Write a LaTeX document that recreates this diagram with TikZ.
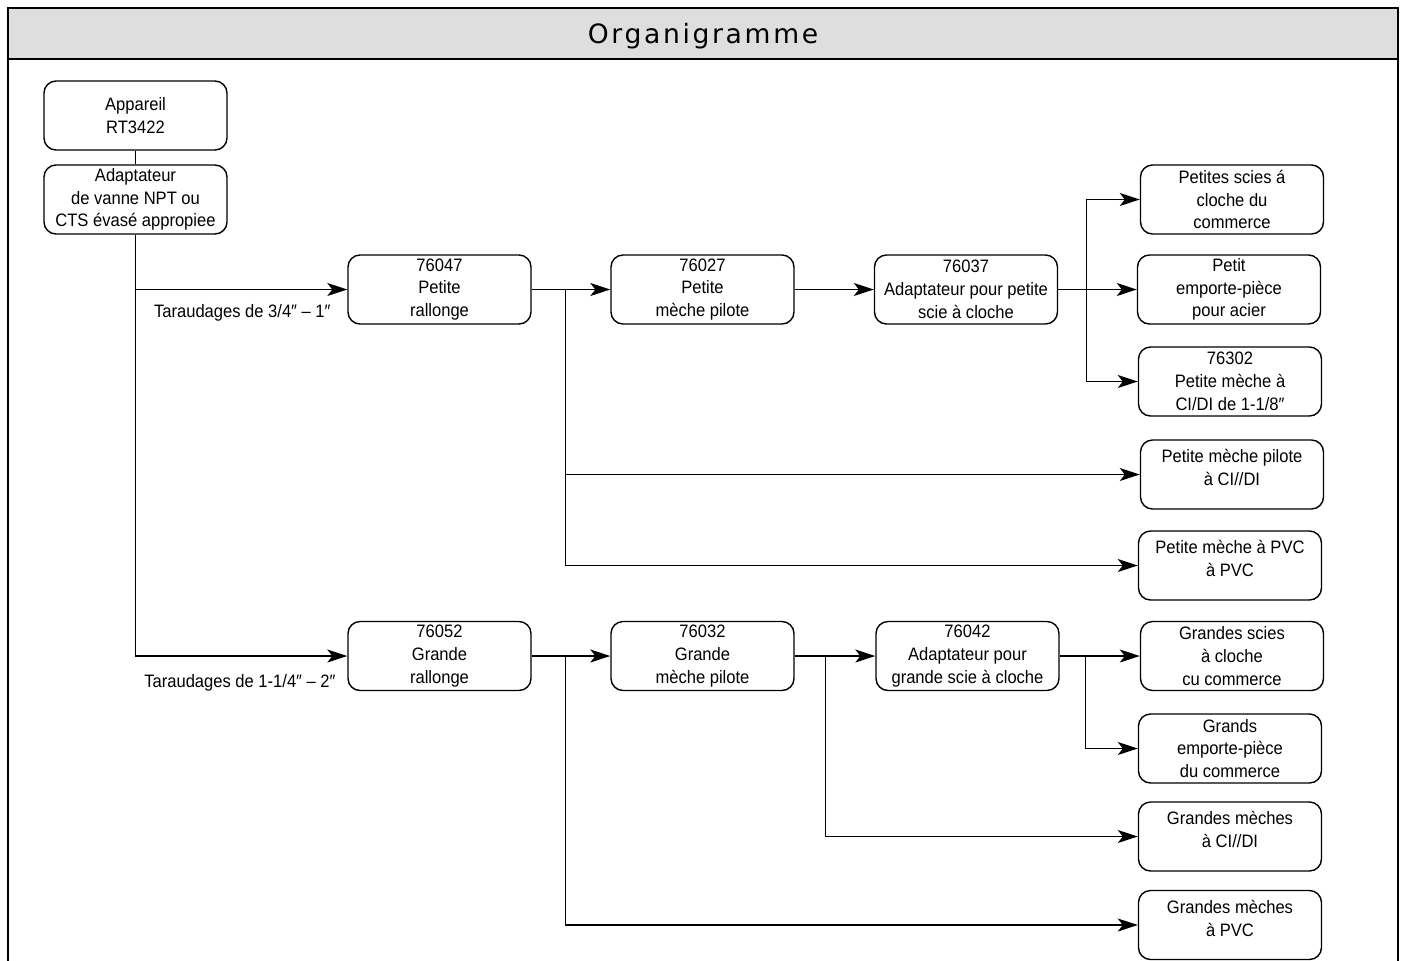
\documentclass[tikz,border=0pt]{standalone}
\usepackage{fontspec}
\setmainfont[FakeStretch=0.92]{Liberation Sans}
\newfontfamily\titlefont[LetterSpace=10]{DejaVu Sans}
\usetikzlibrary{positioning, arrows.meta}

\begin{document}
\begin{tikzpicture}[x=0.5pt, y=-0.5pt, part/.style={rectangle, draw=black, line width=0.7pt, rounded corners=6pt, minimum width=91.5pt, minimum height=34.5pt, inner sep=0pt, align=center, font=\fontsize{9}{11.4}\selectfont}, twoline/.style={text depth=7pt}, link/.style={line width=0.7pt, -{Stealth[length=10pt, width=6.5pt, inset=2.5pt]}}, note/.style={inner sep=0pt, font=\fontsize{9}{11.4}\selectfont}]

    \useasboundingbox (0,0) rectangle (1405,960);

    % Frame
    \draw[line width=1pt, fill=black!13] (8,8) rectangle (1398,59);
    \draw[line width=1pt] (8,59) -- (8,980) (1398,59) -- (1398,980);
    \node[font=\titlefont\fontsize{13.3}{16}\selectfont] (title) at (703,36) {Organigramme};

    % Nodes
    \node[part] (app)   at (135.5,115.5) {Appareil\\RT3422};
    \node[part] (adapt) at (135.5,199.5) {Adaptateur\\de vanne NPT ou\\CTS évasé appropiee};

    \node[part] (r1) at (439.5,289.5) {76047\\Petite\\rallonge};
    \node[part] (p1) at (702.5,289.5) {76027\\Petite\\mèche pilote};
    \node[part] (a1) at (966,289.5)   {76037\\Adaptateur pour petite\\scie à cloche};
    \node[part] (s1) at (1232,199.5)  {Petites scies á\\cloche du\\commerce};
    \node[part] (e1) at (1229,289.5)  {Petit\\emporte-pièce\\pour acier};
    \node[part] (m1) at (1230,381.5)  {76302\\Petite mèche à\\CI/DI de 1-1/8″};
    \node[part, twoline] (c1) at (1232,474.5) {Petite mèche pilote\\à CI//DI};
    \node[part, twoline] (v1) at (1230,565.5) {Petite mèche à PVC\\à PVC};

    \node[part] (r2) at (439.5,656) {76052\\Grande\\rallonge};
    \node[part] (p2) at (702.5,656) {76032\\Grande\\mèche pilote};
    \node[part] (a2) at (967.5,656) {76042\\Adaptateur pour\\grande scie à cloche};
    \node[part] (s2) at (1232,656)  {Grandes scies\\à cloche\\cu commerce};
    \node[part] (e2) at (1230,748.5) {Grands\\emporte-pièce\\du commerce};
    \node[part, twoline] (c2) at (1230,836.5) {Grandes mèches\\à CI//DI};
    \node[part, twoline] (v2) at (1230,925) {Grandes mèches\\à PVC};

    \node[note, anchor=east] (t1) at (331,313) {Taraudages de 3/4″ – 1″};
    \node[note, anchor=east] (t2) at (336,683) {Taraudages de 1-1/4″ – 2″};

    % Branch points
    \coordinate[right=17pt of r1.east] (k1);
    \coordinate[right=14pt of a1.east] (k2);
    \coordinate[right=17pt of r2.east] (k3);
    \coordinate[right=15.5pt of p2.east] (k4);
    \coordinate[right=13pt of a2.east] (k5);

    % Lines ---------------
    \draw[line width=0.7pt] (app.south) -- (adapt.north);
    \draw[link] (adapt.south) |- (r1.west);
    \draw[link] (adapt.south) |- (r2.west);

    \draw[link] (r1.east) -- (p1.west);
    \draw[link] (p1.east) -- (a1.west);
    \draw[link] (a1.east) -- (e1.west);
    \draw[link] (k2) |- (s1.west);
    \draw[link] (k2) |- (m1.west);
    \draw[link] (k1) |- (c1.west);
    \draw[link] (k1) |- (v1.west);

    \draw[link] (r2.east) -- (p2.west);
    \draw[link] (p2.east) -- (a2.west);
    \draw[link] (a2.east) -- (s2.west);
    \draw[link] (k5) |- (e2.west);
    \draw[link] (k4) |- (c2.west);
    \draw[link] (k3) |- (v2.west);

\end{tikzpicture}
\end{document}
